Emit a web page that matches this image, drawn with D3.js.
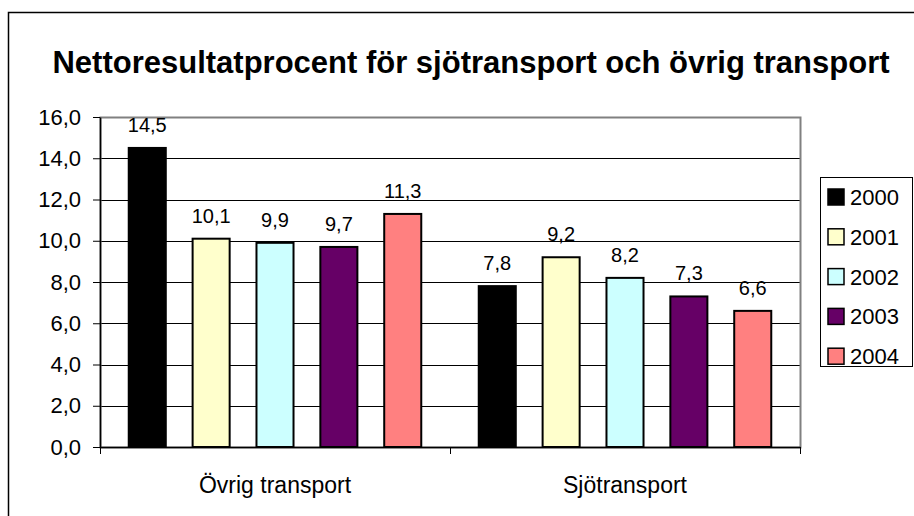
<!DOCTYPE html>
<html>
<head>
<meta charset="utf-8">
<script src="https://cdn.jsdelivr.net/npm/d3@7"></script>
<style>
  body { margin: 0; background: #fff; }
  text { font-family: "Liberation Sans", Arial, sans-serif; }
</style>
</head>
<body>
<div id="chart"></div>
<script>
// chart data
var categories = ["Övrig transport", "Sjötransport"];
var years = ["2000", "2001", "2002", "2003", "2004"];
var values = {
  "2000": [14.5, 7.8],
  "2001": [10.1, 9.2],
  "2002": [9.9, 8.2],
  "2003": [9.7, 7.3],
  "2004": [11.3, 6.6]
};
var yTicks = [0, 2, 4, 6, 8, 10, 12, 14, 16];
var colors = ["#000000", "#FFFFCC", "#CCFFFF", "#660066", "#FF8080"];

var width = 914, height = 516;
var plot = {left: 100, top: 117, right: 800, bottom: 447};

var svg = d3.select("#chart")
  .append("svg")
  .attr("width", width)
  .attr("height", height);

// outer chart frame
svg.append("rect")
  .attr("x", 8.5).attr("y", 12.5)
  .attr("width", width + 20).attr("height", height + 20)
  .attr("fill", "#fff")
  .attr("stroke", "#000")
  .attr("stroke-width", 1.5);

// title
svg.append("text")
  .attr("x", 471).attr("y", 73)
  .attr("text-anchor", "middle")
  .attr("font-size", "31px")
  .attr("font-weight", "bold")
  .text("Nettoresultatprocent för sjötransport och övrig transport");

var x0 = d3.scaleBand()
  .domain(categories)
  .range([plot.left, plot.right]);

var x1 = d3.scaleBand()
  .domain(years)
  .range([0, x0.bandwidth()])
  .paddingInner(0.42)
  .paddingOuter(0.45);

var y = d3.scaleLinear()
  .domain([0, 16])
  .range([plot.bottom, plot.top]);

var fmt = function(v) { return d3.format(".1f")(v).replace(".", ","); };

// gridlines
svg.append("g")
  .selectAll("line")
  .data(yTicks.filter(function(d) { return d > 0 && d < 16; }))
  .join("line")
  .attr("x1", plot.left).attr("x2", plot.right)
  .attr("y1", function(d) { return Math.round(y(d)) + 0.5; })
  .attr("y2", function(d) { return Math.round(y(d)) + 0.5; })
  .attr("stroke", "#000");

// plot area border
svg.append("rect")
  .attr("x", plot.left + 0.5).attr("y", plot.top + 0.5)
  .attr("width", plot.right - plot.left).attr("height", plot.bottom - plot.top)
  .attr("fill", "none")
  .attr("stroke", "#808080")
  .attr("stroke-width", 2);

// bars
var groups = svg.append("g")
  .selectAll("g")
  .data(categories)
  .join("g")
  .attr("transform", function(d) { return "translate(" + x0(d) + ",0)"; });

groups.selectAll("rect")
  .data(function(c, ci) {
    return years.map(function(yr, i) { return {year: yr, value: values[yr][ci], color: colors[i]}; });
  })
  .join("rect")
  .attr("x", function(d) { return x1(d.year); })
  .attr("y", function(d) { return y(d.value); })
  .attr("width", x1.bandwidth())
  .attr("height", function(d) { return y(0) - y(d.value); })
  .attr("fill", function(d) { return d.color; })
  .attr("stroke", "#000")
  .attr("stroke-width", 2);

groups.selectAll("text")
  .data(function(c, ci) {
    return years.map(function(yr) { return {year: yr, value: values[yr][ci]}; });
  })
  .join("text")
  .attr("x", function(d) { return x1(d.year) + x1.bandwidth() / 2; })
  .attr("y", function(d) { return y(d.value) - 16; })
  .attr("text-anchor", "middle")
  .attr("font-size", "20px")
  .text(function(d) { return fmt(d.value); });

// y axis
var yAxis = svg.append("g")
  .attr("transform", "translate(" + plot.left + ",0)")
  .call(d3.axisLeft(y).tickValues(yTicks).tickFormat(fmt).tickSize(7).tickSizeOuter(0));
yAxis.select(".domain").attr("stroke", "#000").attr("stroke-width", 1.5);
yAxis.selectAll(".tick line").attr("stroke", "#000");
yAxis.selectAll(".tick text")
  .attr("font-size", "22px")
  .attr("font-family", "Liberation Sans, Arial, sans-serif")
  .attr("fill", "#000")
  .attr("x", -19);

// x axis
var xAxis = svg.append("g")
  .attr("transform", "translate(0," + plot.bottom + ")")
  .call(d3.axisBottom(x0).tickSize(0).tickSizeOuter(0));
xAxis.select(".domain").attr("stroke", "#000").attr("stroke-width", 1.5);
xAxis.selectAll(".tick text")
  .attr("font-size", "23px")
  .attr("font-family", "Liberation Sans, Arial, sans-serif")
  .attr("fill", "#000")
  .attr("dy", "0")
  .attr("y", 46);

// category separator ticks
svg.append("g")
  .selectAll("line")
  .data(categories.map(function(c) { return x0(c); }).concat([plot.right]))
  .join("line")
  .attr("x1", function(d) { return d + 0.5; }).attr("x2", function(d) { return d + 0.5; })
  .attr("y1", plot.bottom).attr("y2", plot.bottom + 7)
  .attr("stroke", "#000");

// legend
var legend = svg.append("g");
legend.append("rect")
  .attr("x", 820.5).attr("y", 177.5)
  .attr("width", 92).attr("height", 189)
  .attr("fill", "#fff")
  .attr("stroke", "#000");

var items = legend.selectAll("g")
  .data(years)
  .join("g")
  .attr("transform", function(d, i) { return "translate(828," + (189 + i * 39.8) + ")"; });

items.append("rect")
  .attr("width", 16).attr("height", 16)
  .attr("fill", function(d, i) { return colors[i]; })
  .attr("stroke", "#000")
  .attr("stroke-width", 1.5);

items.append("text")
  .attr("x", 22).attr("y", 16)
  .attr("font-size", "22px")
  .text(function(d) { return d; });
</script>
</body>
</html>
